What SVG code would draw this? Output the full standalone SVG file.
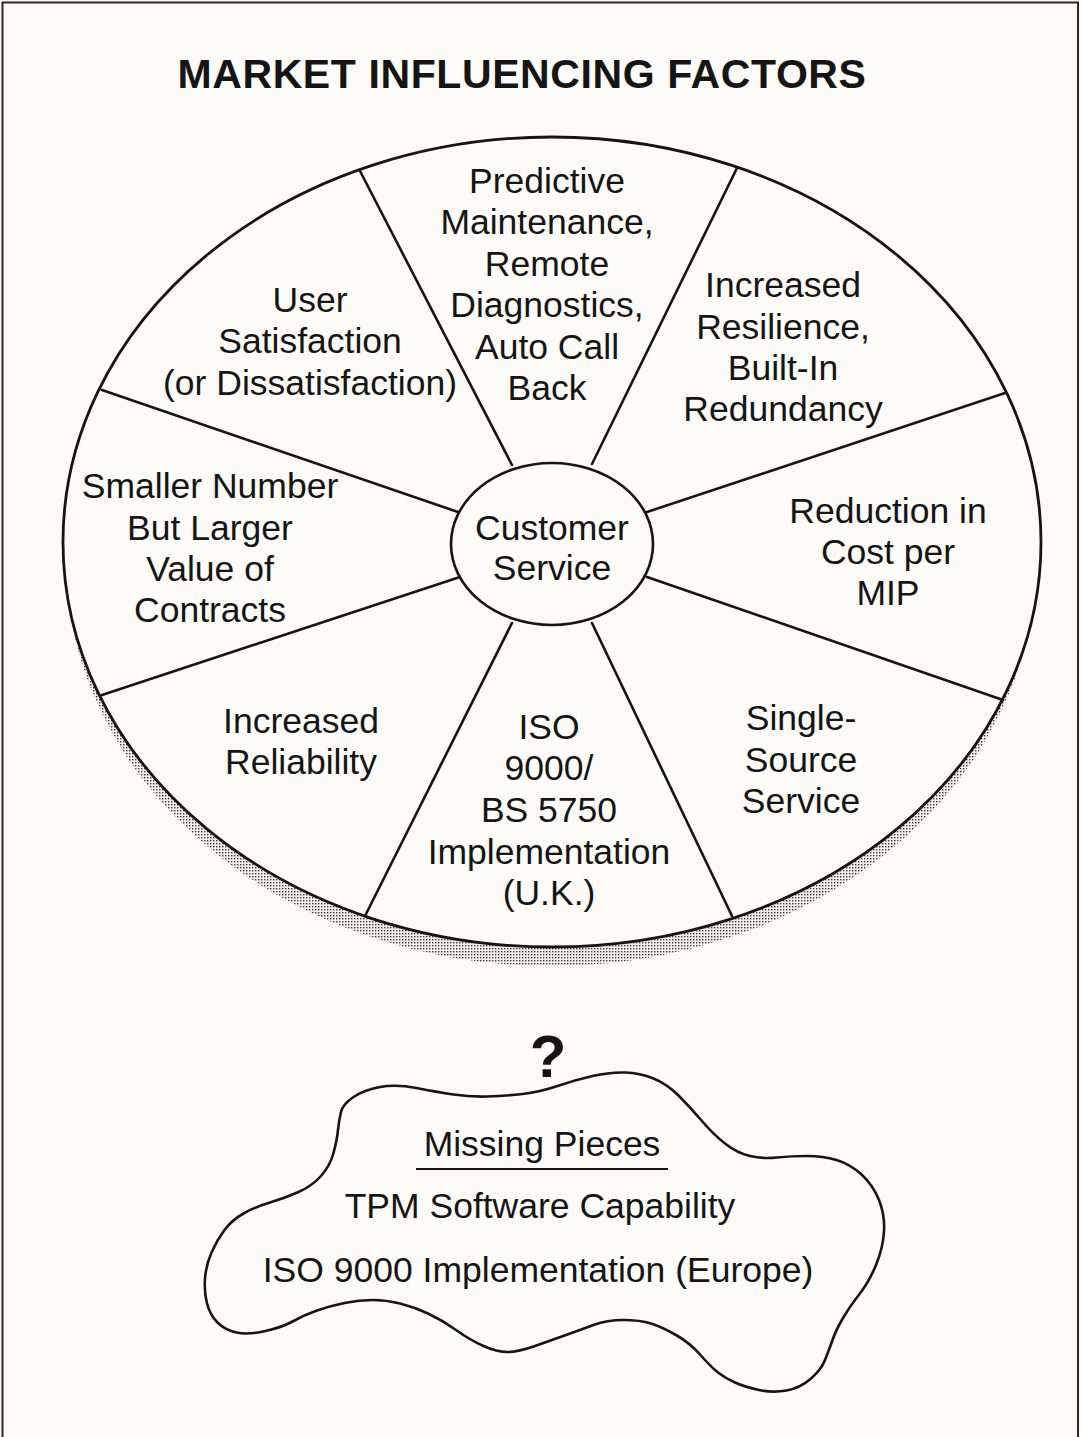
<svg xmlns="http://www.w3.org/2000/svg" width="1081" height="1437" viewBox="0 0 1081 1437">
<style>
.t{font-family:"Liberation Sans",Arial,Helvetica,sans-serif;font-size:35.5px;fill:#151515;text-anchor:middle}
.title{font-family:"Liberation Sans",Arial,Helvetica,sans-serif;font-size:41px;font-weight:bold;fill:#151515;text-anchor:middle;letter-spacing:0.6px}
.spoke{stroke:#151515;stroke-width:2.6;stroke-linecap:round}
</style>
<defs>
<pattern id="dots" width="3" height="3" patternUnits="userSpaceOnUse">
<rect width="3" height="3" fill="#f2f0ec"/>
<rect width="1.4" height="1.4" fill="#3a3a3a"/>
</pattern>
</defs>
<rect width="1081" height="1437" fill="#fcfbf8"/>
<path d="M2.5,1437 V2.5 H1078 V1437" fill="none" stroke="#2a2a2a" stroke-width="2"/>
<g id="title"><text class="title" x="522" y="88">MARKET INFLUENCING FACTORS</text></g>
<g id="wheel">
<ellipse cx="551" cy="560" rx="485" ry="406" fill="url(#dots)"/>
<ellipse cx="552" cy="542" rx="489" ry="405" fill="#fcfbf8" stroke="#151515" stroke-width="2.8"/>
</g>
<g id="connectors">
<line class="spoke" x1="512" y1="465" x2="360" y2="171"/>
<line class="spoke" x1="592" y1="464" x2="737" y2="168"/>
<line class="spoke" x1="647" y1="512" x2="1005" y2="393"/>
<line class="spoke" x1="647" y1="577" x2="1003" y2="700"/>
<line class="spoke" x1="592" y1="623" x2="732" y2="916"/>
<line class="spoke" x1="512" y1="623" x2="365" y2="916"/>
<line class="spoke" x1="460" y1="577" x2="102" y2="695"/>
<line class="spoke" x1="458" y1="512" x2="102" y2="390"/>
</g>
<g id="center">
<ellipse cx="552" cy="544" rx="101" ry="81" fill="#fcfbf8" stroke="#151515" stroke-width="2.6"/>
<text class="t" x="552" y="540">Customer</text>
<text class="t" x="552" y="580">Service</text>
</g>
<g id="predictive">
<text class="t" x="547" y="193">Predictive</text>
<text class="t" x="547" y="234">Maintenance,</text>
<text class="t" x="547" y="276">Remote</text>
<text class="t" x="547" y="317">Diagnostics,</text>
<text class="t" x="547" y="359">Auto Call</text>
<text class="t" x="547" y="400">Back</text>
</g>
<g id="resilience">
<text class="t" x="783" y="297">Increased</text>
<text class="t" x="783" y="339">Resilience,</text>
<text class="t" x="783" y="380">Built-In</text>
<text class="t" x="783" y="421">Redundancy</text>
</g>
<g id="cost">
<text class="t" x="888" y="523">Reduction in</text>
<text class="t" x="888" y="564">Cost per</text>
<text class="t" x="888" y="605">MIP</text>
</g>
<g id="single-source">
<text class="t" x="801" y="730">Single-</text>
<text class="t" x="801" y="772">Source</text>
<text class="t" x="801" y="813">Service</text>
</g>
<g id="iso">
<text class="t" x="549" y="739">ISO</text>
<text class="t" x="549" y="780">9000/</text>
<text class="t" x="549" y="822">BS 5750</text>
<text class="t" x="549" y="864">Implementation</text>
<text class="t" x="549" y="905">(U.K.)</text>
</g>
<g id="reliability">
<text class="t" x="301" y="733">Increased</text>
<text class="t" x="301" y="774">Reliability</text>
</g>
<g id="contracts">
<text class="t" x="210" y="498">Smaller Number</text>
<text class="t" x="210" y="540">But Larger</text>
<text class="t" x="210" y="581">Value of</text>
<text class="t" x="210" y="622">Contracts</text>
</g>
<g id="user">
<text class="t" x="310" y="312">User</text>
<text class="t" x="310" y="353">Satisfaction</text>
<text class="t" x="310" y="395">(or Dissatisfaction)</text>
</g>
<g id="question"><text x="548" y="1077" style="font-family:'Liberation Sans',Arial,sans-serif;font-size:60px;font-weight:bold;fill:#151515;text-anchor:middle">?</text></g>
<g id="missing">
<path d="M 341,1112 Q 343,1104 353.5,1097 Q 364,1090 380,1087 Q 396,1084 416.5,1088 Q 437,1092 453.5,1094.5 Q 470,1097 487.5,1096.5 Q 505,1096 522.5,1094 Q 540,1092 557.5,1086 Q 575,1080 592.5,1076 Q 610,1072 625,1072.5 Q 640,1073 653.5,1078.5 Q 667,1084 678.5,1095.5 Q 690,1107 701.5,1120.5 Q 713,1134 725,1143.5 Q 737,1153 750,1156 Q 763,1159 777,1157.5 Q 791,1156 807,1156 Q 823,1156 836.5,1160 Q 850,1164 861.5,1174.5 Q 873,1185 879,1200 Q 885,1215 884,1231.5 Q 883,1248 876,1265 Q 869,1282 859.5,1294 Q 850,1306 843,1318 Q 836,1330 832.5,1340 Q 829,1350 825,1360 Q 821,1370 810.5,1379 Q 800,1388 786.5,1390.5 Q 773,1393 759,1390 Q 745,1387 735,1382.5 Q 725,1378 718,1372.5 Q 711,1367 700.5,1355 Q 690,1343 676,1335 Q 662,1327 651,1323.5 Q 640,1320 623.5,1320 Q 607,1320 593.5,1325 Q 580,1330 566,1335 Q 552,1340 535,1346 Q 518,1352 507.5,1352 Q 497,1352 483.5,1346 Q 470,1340 456,1330 Q 442,1320 428,1313.5 Q 414,1307 400,1303.5 Q 386,1300 372.5,1300 Q 359,1300 344.5,1303 Q 330,1306 317,1310.5 Q 304,1315 293.5,1321 Q 283,1327 265.5,1331 Q 248,1335 236.5,1332.5 Q 225,1330 217.5,1322.5 Q 210,1315 207,1303.5 Q 204,1292 205,1278.5 Q 206,1265 211.5,1252.5 Q 217,1240 224.5,1230 Q 232,1220 243.5,1213.5 Q 255,1207 270,1202.5 Q 285,1198 298.5,1192 Q 312,1186 321,1176 Q 330,1166 333.5,1153 Q 337,1140 338,1130 Q 339,1120 341,1112 Z" fill="none" stroke="#151515" stroke-width="2.6" stroke-linejoin="round"/>
<text class="t" x="542" y="1156">Missing Pieces</text>
<line x1="416" y1="1169" x2="668" y2="1169" stroke="#151515" stroke-width="2.2"/>
<text class="t" x="540" y="1218">TPM Software Capability</text>
<text class="t" x="538" y="1282">ISO 9000 Implementation (Europe)</text>
</g>
</svg>
